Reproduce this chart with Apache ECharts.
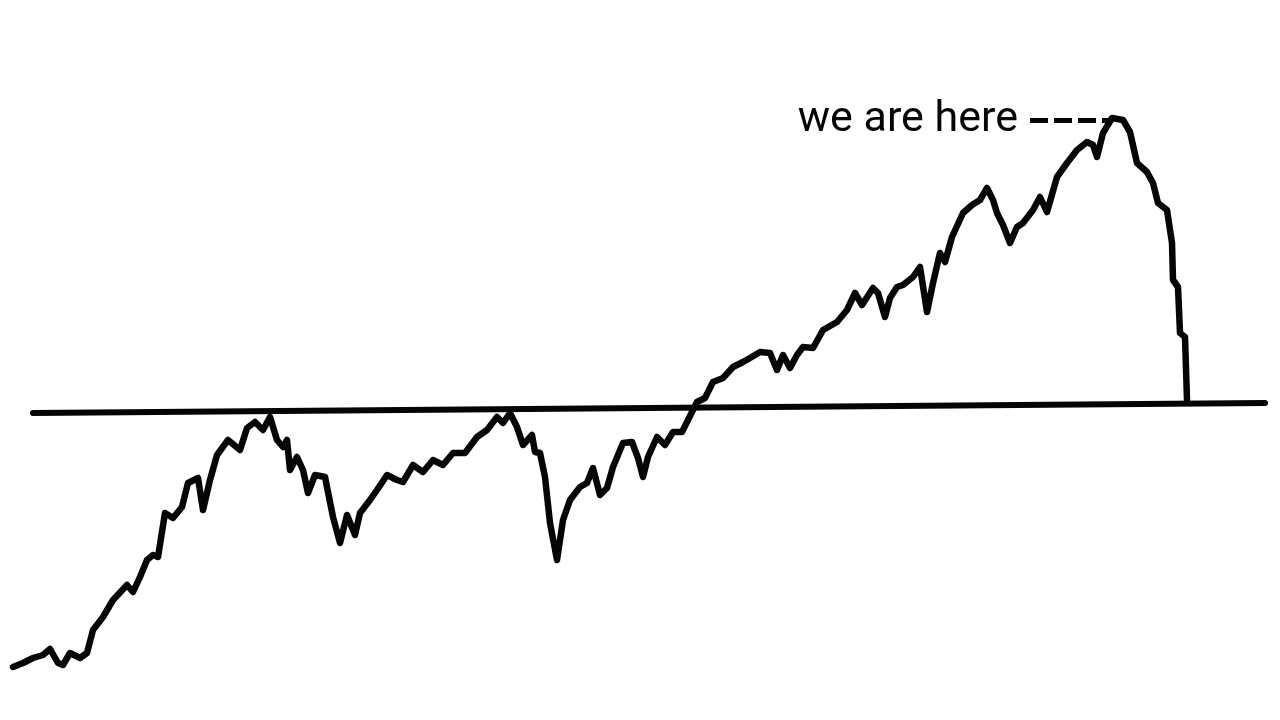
<!DOCTYPE html>
<html>
<head>
<meta charset="utf-8">
<title>we are here</title>
<script src="https://cdn.jsdelivr.net/npm/echarts@6/dist/echarts.min.js"></script>
<style>
  html, body { margin: 0; padding: 0; background: #fff; }
  #chart { width: 1280px; height: 720px; }
</style>
</head>
<body>
<div id="chart"></div>
<script>
// trading day and index level
var days = [0, 10, 20, 30, 37, 45, 50, 57, 67, 74, 80, 90, 100, 114, 120, 127, 134, 140, 145, 152, 160, 169, 175, 185, 190, 197, 204, 215, 227, 234, 242, 250, 257, 264, 270, 274, 277, 284, 290, 295, 302, 312, 320, 327, 334, 342, 347, 357, 364, 374, 384, 390, 400, 410, 420, 430, 440, 452, 464, 474, 484, 490, 497, 504, 510, 519, 522, 527, 532, 537, 544, 550, 557, 567, 574, 580, 587, 594, 600, 610, 619, 625, 630, 635, 644, 652, 660, 669, 675, 684, 692, 700, 710, 720, 730, 737, 747, 757, 764, 770, 777, 784, 790, 800, 810, 824, 834, 842, 849, 860, 865, 872, 877, 884, 890, 900, 907, 914, 920, 927, 932, 939, 950, 959, 967, 974, 980, 984, 990, 997, 1004, 1010, 1020, 1027, 1034, 1044, 1054, 1064, 1074, 1080, 1084, 1090, 1099, 1110, 1117, 1124, 1134, 1140, 1145, 1154, 1159, 1160, 1165, 1167, 1172, 1174];
var prices = [53, 57, 62, 65, 71, 57, 55, 67, 62, 67, 90, 103, 120, 135, 128, 143, 160, 165, 163, 207, 202, 213, 237, 242, 210, 240, 265, 280, 270, 292, 298, 290, 303, 280, 273, 280, 250, 263, 250, 227, 245, 243, 203, 177, 205, 185, 207, 220, 230, 245, 240, 238, 255, 248, 260, 255, 267, 267, 283, 290, 303, 297, 307, 293, 275, 285, 268, 267, 243, 197, 160, 200, 220, 233, 237, 252, 225, 232, 253, 277, 278, 262, 243, 263, 283, 275, 288, 288, 300, 318, 322, 338, 342, 353, 358, 362, 368, 367, 350, 365, 352, 365, 373, 372, 390, 398, 410, 427, 415, 432, 427, 403, 422, 433, 435, 443, 453, 408, 437, 467, 458, 483, 507, 515, 520, 532, 520, 507, 495, 477, 493, 497, 510, 523, 508, 543, 557, 570, 578, 575, 563, 587, 602, 600, 588, 557, 548, 537, 517, 510, 477, 440, 433, 387, 383, 320];

// the old high that price keeps coming back to
var levelDays = [20, 1252];
var levelPrices = [307, 317];

// where the callout sits
var calloutDays = [1017, 1099];
var calloutPrice = 600;

var chart = echarts.init(document.getElementById('chart'));

chart.setOption({
  backgroundColor: '#ffffff',
  animation: false,
  grid: { left: 0, right: 0, top: 0, bottom: 0 },
  xAxis: { type: 'value', min: -13, max: 1267, show: false },
  yAxis: { type: 'value', min: 0, max: 720, show: false },
  series: [
    {
      name: 'level',
      type: 'line',
      data: levelDays.map(function (d, i) { return [d, levelPrices[i]]; }),
      showSymbol: false,
      lineStyle: { color: '#050505', width: 6, cap: 'round' },
      z: 2
    },
    {
      name: 'price',
      type: 'line',
      data: days.map(function (d, i) { return [d, prices[i]]; }),
      showSymbol: false,
      lineStyle: { color: '#050505', width: 6.5, join: 'round', cap: 'round' },
      z: 3,
      markLine: {
        silent: true,
        symbol: 'none',
        lineStyle: { color: '#050505', width: 5, type: [18, 6] },
        label: {
          show: true,
          position: 'start',
          distance: 12,
          formatter: 'we are here',
          fontFamily: 'Roboto',
          fontSize: 43,
          color: '#050505'
        },
        data: [[
          { coord: [calloutDays[0], calloutPrice] },
          { coord: [calloutDays[1], calloutPrice] }
        ]]
      }
    }
  ]
});
</script>
</body>
</html>
